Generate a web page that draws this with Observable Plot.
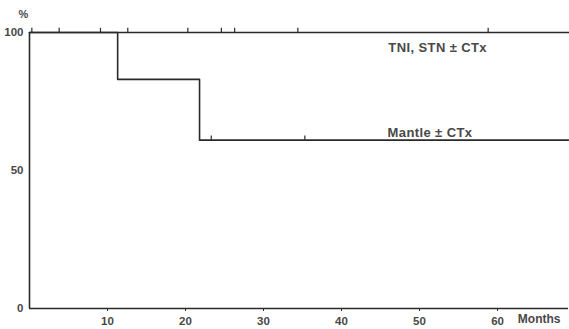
<!DOCTYPE html>
<html>
<head>
<meta charset="utf-8">
<script src="https://cdn.jsdelivr.net/npm/d3@7"></script>
<script src="https://cdn.jsdelivr.net/npm/@observablehq/plot@0.6"></script>
<style>
  html, body { margin: 0; padding: 0; background: #fff; }
  svg { display: block; }
</style>
</head>
<body>
<div id="chart"></div>
<script>
// Survival step data (months, %)
const tniMonths = [0, 69.1];
const tniValues = [100, 100];
const mantleMonths = [0, 11.3, 21.8, 69.1];
const mantleValues = [100, 83, 61, 61];

// Censored observations (tick marks)
const tniCensor = [0.3, 3.8, 9.1, 12.6, 20.3, 24.6, 26.3, 34.4, 58.8];
const mantleCensor = [23.3, 35.3];

const xTicks = [10, 20, 30, 40, 50, 60];
const yTicks = [0, 50, 100];

const seriesLabels = ["TNI, STN \u00b1 CTx", "Mantle \u00b1 CTx"];
const labelMonth = [46, 45.9];
const labelValue = [94.6, 63.8];

const tni = tniMonths.map((m, i) => ({month: m, value: tniValues[i]}));
const mantle = mantleMonths.map((m, i) => ({month: m, value: mantleValues[i]}));
const censor = [
  ...tniCensor.map(m => ({month: m, value: 100})),
  ...mantleCensor.map(m => ({month: m, value: mantleValues[2]}))
];
const labels = seriesLabels.map((t, i) => ({text: t, month: labelMonth[i], value: labelValue[i]}));

const ink = "#2a2a2a";
const textInk = "#484848";

const chart = Plot.plot({
  width: 569,
  height: 329,
  marginLeft: 29,
  marginRight: 1,
  marginTop: 32,
  marginBottom: 21,
  style: {fontFamily: "'Liberation Sans', Arial, sans-serif", fontSize: "11px", color: textInk, background: "#fff"},
  x: {domain: [0, 69.1]},
  y: {domain: [0, 100]},
  marks: [
    Plot.axisX({ticks: xTicks, tickSize: 3, tickPadding: 5, label: null, fontWeight: "bold", fontSize: 11.5, stroke: ink}),
    Plot.axisY({ticks: yTicks, tickSize: 0, tickPadding: 6, label: null, fontWeight: "bold", fontSize: 11.5}),
    Plot.ruleY([0], {stroke: ink, strokeWidth: 1.6}),
    Plot.ruleX([0], {y1: 0, y2: 100, stroke: ink, strokeWidth: 1.6}),
    Plot.line(tni, {x: "month", y: "value", curve: "step-after", stroke: ink, strokeWidth: 1.6}),
    Plot.line(mantle, {x: "month", y: "value", curve: "step-after", stroke: ink, strokeWidth: 1.6}),
    Plot.ruleX(censor, {x: "month", y1: "value", y2: d => d.value + 1.5, stroke: ink, strokeWidth: 1.2}),
    Plot.text(labels, {x: "month", y: "value", text: "text", textAnchor: "start", fontWeight: "bold", fontSize: 13, fill: textInk, style: "letter-spacing:0.4px"}),
    Plot.text(["Months"], {frameAnchor: "bottom-right", dx: -8, dy: 14, fontWeight: "bold", fontSize: 12, fill: textInk}),
    Plot.text(["%"], {frameAnchor: "top-left", dx: -11, dy: -22, fontWeight: "bold", fontSize: 11, fill: textInk})
  ]
});
chart.querySelectorAll("text").forEach(t => {
  if (/CTx/.test(t.textContent)) t.setAttribute("letter-spacing", "0.4");
});
document.getElementById("chart").appendChild(chart);
</script>
</body>
</html>
